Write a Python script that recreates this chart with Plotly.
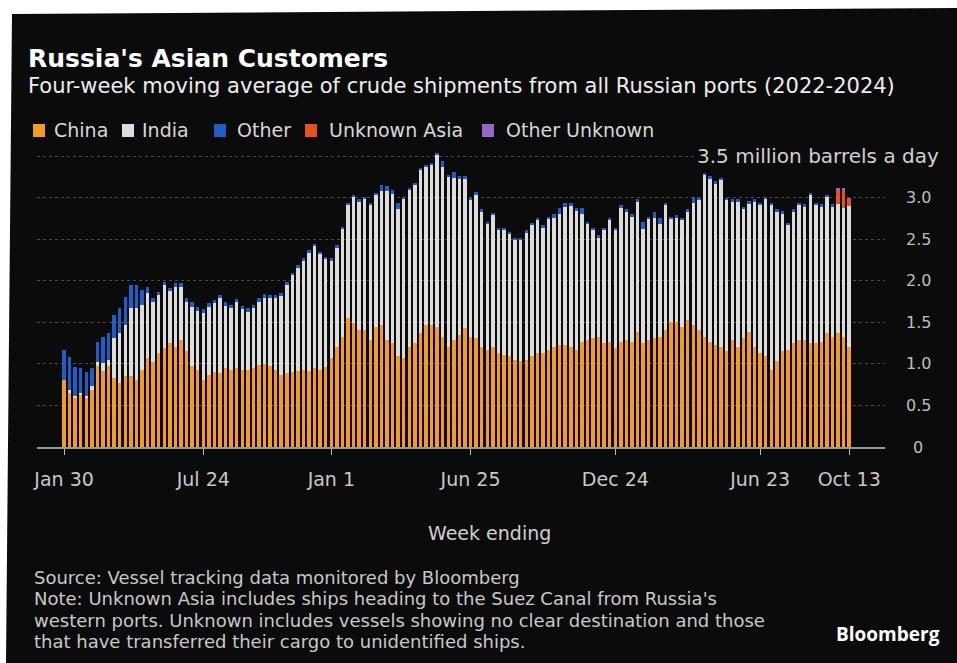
import pandas as pd
import plotly.graph_objects as go

# Weekly periods (week ending on Sunday)
weeks = pd.date_range("2022-01-30", periods=142, freq="W-SUN")

# Four-week moving average, million barrels a day
china = [
    0.81, 0.65, 0.59, 0.63, 0.59, 0.69, 0.97, 0.91, 0.97, 0.83,
    0.77, 0.85, 0.85, 0.81, 0.93, 1.07, 1.02, 1.13, 1.19, 1.25,
    1.20, 1.29, 1.15, 0.97, 0.93, 0.81, 0.87, 0.90, 0.89, 0.95,
    0.93, 0.95, 0.93, 0.93, 0.95, 0.99, 1.00, 0.97, 0.93, 0.87,
    0.89, 0.90, 0.92, 0.93, 0.92, 0.95, 0.93, 0.96, 1.07, 1.21,
    1.33, 1.55, 1.49, 1.41, 1.41, 1.29, 1.45, 1.47, 1.29, 1.25,
    1.09, 1.07, 1.21, 1.25, 1.37, 1.47, 1.47, 1.45, 1.33, 1.21,
    1.29, 1.35, 1.43, 1.33, 1.31, 1.21, 1.17, 1.21, 1.13, 1.11,
    1.09, 1.05, 1.03, 1.05, 1.09, 1.13, 1.13, 1.17, 1.21, 1.23,
    1.23, 1.21, 1.17, 1.27, 1.29, 1.31, 1.33, 1.25, 1.27, 1.19,
    1.27, 1.29, 1.27, 1.39, 1.25, 1.29, 1.31, 1.33, 1.41, 1.51,
    1.51, 1.45, 1.53, 1.47, 1.41, 1.33, 1.27, 1.23, 1.21, 1.15,
    1.29, 1.21, 1.31, 1.39, 1.21, 1.13, 1.09, 0.93, 1.03, 1.15,
    1.17, 1.25, 1.29, 1.29, 1.25, 1.25, 1.27, 1.37, 1.33, 1.37,
    1.33, 1.21,
]
india = [
    0.00, 0.04, 0.02, 0.02, 0.03, 0.05, 0.05, 0.10, 0.08, 0.48,
    0.60, 0.62, 0.82, 0.86, 0.78, 0.78, 0.72, 0.70, 0.76, 0.63,
    0.73, 0.64, 0.60, 0.72, 0.71, 0.80, 0.82, 0.83, 0.90, 0.75,
    0.74, 0.79, 0.73, 0.70, 0.72, 0.76, 0.80, 0.82, 0.86, 0.95,
    1.06, 1.17, 1.24, 1.31, 1.42, 1.47, 1.39, 1.30, 1.17, 1.19,
    1.29, 1.36, 1.52, 1.54, 1.57, 1.62, 1.58, 1.61, 1.79, 1.80,
    1.78, 1.91, 1.88, 1.90, 1.96, 1.90, 1.92, 2.06, 2.04, 2.04,
    1.95, 1.88, 1.80, 1.64, 1.73, 1.62, 1.51, 1.58, 1.48, 1.50,
    1.47, 1.44, 1.46, 1.53, 1.58, 1.60, 1.51, 1.57, 1.55, 1.58,
    1.66, 1.69, 1.67, 1.54, 1.39, 1.30, 1.19, 1.36, 1.46, 1.42,
    1.61, 1.54, 1.50, 1.56, 1.38, 1.45, 1.45, 1.36, 1.50, 1.23,
    1.25, 1.28, 1.30, 1.47, 1.56, 1.94, 1.96, 1.94, 2.00, 1.82,
    1.66, 1.74, 1.55, 1.54, 1.74, 1.78, 1.89, 1.98, 1.80, 1.66,
    1.50, 1.58, 1.62, 1.60, 1.78, 1.66, 1.62, 1.64, 1.56, 1.55,
    1.55, 1.69,
]
other = [
    0.36, 0.39, 0.35, 0.30, 0.28, 0.21, 0.25, 0.32, 0.32, 0.28,
    0.30, 0.34, 0.28, 0.28, 0.18, 0.08, 0.06, 0.04, 0.04, 0.04,
    0.04, 0.04, 0.04, 0.06, 0.05, 0.05, 0.04, 0.04, 0.04, 0.04,
    0.04, 0.04, 0.04, 0.04, 0.04, 0.04, 0.04, 0.04, 0.04, 0.04,
    0.04, 0.03, 0.03, 0.03, 0.03, 0.03, 0.03, 0.03, 0.03, 0.03,
    0.03, 0.03, 0.03, 0.03, 0.03, 0.03, 0.03, 0.08, 0.06, 0.05,
    0.07, 0.03, 0.03, 0.03, 0.03, 0.03, 0.03, 0.03, 0.07, 0.03,
    0.07, 0.03, 0.03, 0.03, 0.03, 0.03, 0.03, 0.03, 0.03, 0.03,
    0.03, 0.03, 0.03, 0.03, 0.03, 0.03, 0.03, 0.03, 0.04, 0.07,
    0.05, 0.04, 0.04, 0.07, 0.03, 0.03, 0.03, 0.03, 0.03, 0.03,
    0.03, 0.03, 0.03, 0.03, 0.08, 0.03, 0.07, 0.07, 0.03, 0.03,
    0.03, 0.03, 0.03, 0.07, 0.03, 0.03, 0.03, 0.03, 0.03, 0.03,
    0.03, 0.03, 0.03, 0.03, 0.03, 0.03, 0.03, 0.03, 0.03, 0.03,
    0.03, 0.03, 0.03, 0.03, 0.03, 0.03, 0.03, 0.03, 0.03, 0.00,
    0.00, 0.00,
]
unknown_asia = [0.0] * 139 + [0.18, 0.22, 0.10]
other_unknown = [0.0] * 139 + [0.01, 0.01, 0.0]

series_names = ["China", "India", "Other", "Unknown Asia", "Other Unknown"]
series_values = [china, india, other, unknown_asia, other_unknown]
series_colors = ["#F29B26", "#DCDCDC", "#1F5EC6", "#E4531F", "#9168C9"]

tick_dates = ["2022-01-30", "2022-07-24", "2023-01-01", "2023-06-25",
              "2023-12-24", "2024-06-23", "2024-10-13"]
tick_labels = ["Jan 30", "Jul 24", "Jan 1", "Jun 25", "Dec 24", "Jun 23", "Oct 13"]
y_ticks = [0, 0.5, 1.0, 1.5, 2.0, 2.5, 3.0]
y_tick_labels = ["0", "0.5", "1.0", "1.5", "2.0", "2.5", "3.0"]

footnote_lines = [
    "Source: Vessel tracking data monitored by Bloomberg",
    "Note: Unknown Asia includes ships heading to the Suez Canal from Russia's",
    "western ports. Unknown includes vessels showing no clear destination and those",
    "that have transferred their cargo to unidentified ships.",
]

W, H = 957, 663
ML, MR, MT, MB = 37, 72, 148, 216
PW, PH = W - ML - MR, H - MT - MB


def px(x):
    return (x - ML) / PW


def py(y):
    return (H - MB - y) / PH


TXT = "DejaVu Sans"
PANEL = "#0B0B0B"
fig = go.Figure()
for name, vals, col in zip(series_names, series_values, series_colors):
    fig.add_trace(go.Bar(x=weeks, y=vals, name=name, marker_color=col,
                         marker_line_width=0, showlegend=False))

shapes = []
# dark panel of the graphic
shapes.append(dict(type="path", xref="paper", yref="paper", layer="below",
                   path=f"M {px(12)} {py(14)} L {px(957)} {py(8)} L {px(957)} {py(663)} L {px(6)} {py(663)} Z",
                   fillcolor=PANEL, line_width=0))
annotations = []

# legend swatches and labels
legend_x = [(33, 52), (122, 140), (214, 235), (305, 327), (482, 504)]
for (sx, tx), name, col in zip(legend_x, series_names, series_colors):
    shapes.append(dict(type="rect", xref="paper", yref="paper",
                       x0=px(sx), x1=px(sx + 12), y0=py(137), y1=py(124),
                       fillcolor=col, line_width=0))
    annotations.append(dict(text=name, x=px(tx), y=py(130), xref="paper", yref="paper",
                            xanchor="left", yanchor="middle", showarrow=False,
                            font=dict(family=TXT, size=19, color="#D8D8D8")))

# right-hand value labels
for v, lab in zip(y_ticks, y_tick_labels):
    annotations.append(dict(text=lab, x=px(918), y=v, xref="paper", yref="y",
                            xanchor="center", yanchor="middle", showarrow=False,
                            font=dict(family=TXT, size=16, color="#BEBEBE")))
annotations.append(dict(text="3.5 million barrels a day", x=px(941), y=3.5,
                        xref="paper", yref="y", xanchor="right", yanchor="middle",
                        showarrow=False, bgcolor=PANEL,
                        font=dict(family=TXT, size=20, color="#D0D0D0")))

annotations += [
    dict(text="<b>Russia's Asian Customers</b>", x=px(26), y=py(58), xref="paper", yref="paper",
         xanchor="left", yanchor="middle", showarrow=False,
         font=dict(family="DejaVu Sans", size=25, color="#FFFFFF")),
    dict(text="Four-week moving average of crude shipments from all Russian ports (2022-2024)",
         x=px(26), y=py(86), xref="paper", yref="paper", xanchor="left", yanchor="middle",
         showarrow=False, font=dict(family=TXT, size=21, color="#EDEDED")),
    dict(text="Week ending", x=px(489), y=py(533), xref="paper", yref="paper",
         xanchor="center", yanchor="middle", showarrow=False,
         font=dict(family=TXT, size=19, color="#D0D0D0")),
    dict(text="<b>Bloomberg</b>", x=px(942), y=py(634), xref="paper", yref="paper",
         xanchor="right", yanchor="middle", showarrow=False,
         font=dict(family="Open Sans", size=19, color="#FFFFFF")),
]
# footnote block, one line per annotation for tight leading
for line, yy in zip(footnote_lines, [577, 598.5, 620, 641]):
    annotations.append(dict(text=line, x=px(32), y=py(yy), xref="paper", yref="paper",
                            xanchor="left", yanchor="middle", showarrow=False,
                            font=dict(family=TXT, size=18, color="#C8C8C8")))

start = weeks[0]
fig.update_layout(
    width=W, height=H,
    margin=dict(l=ML, r=MR, t=MT, b=MB, pad=0),
    paper_bgcolor="#FFFFFF", plot_bgcolor="rgba(0,0,0,0)",
    barmode="stack", bargap=0.38,
    shapes=shapes, annotations=annotations,
    xaxis=dict(type="date",
               range=[start - pd.Timedelta(days=34), start + pd.Timedelta(days=1032)],
               tickvals=tick_dates, ticktext=tick_labels,
               ticks="outside", ticklen=6, tickcolor="#BBBBBB", tickwidth=1,
               ticklabelstandoff=8,
               showline=True, linecolor="#9A9A9A", linewidth=1.5,
               showgrid=False, zeroline=False,
               tickfont=dict(family=TXT, size=19, color="#C8C8C8")),
    yaxis=dict(range=[0, 3.6], tickvals=[0.5, 1.0, 1.5, 2.0, 2.5, 3.0, 3.5],
               showticklabels=False, showgrid=True, gridcolor="#4A4A4A",
               griddash="dot", gridwidth=1, zeroline=False, ticks=""),
)

fig.write_html("out.html")
